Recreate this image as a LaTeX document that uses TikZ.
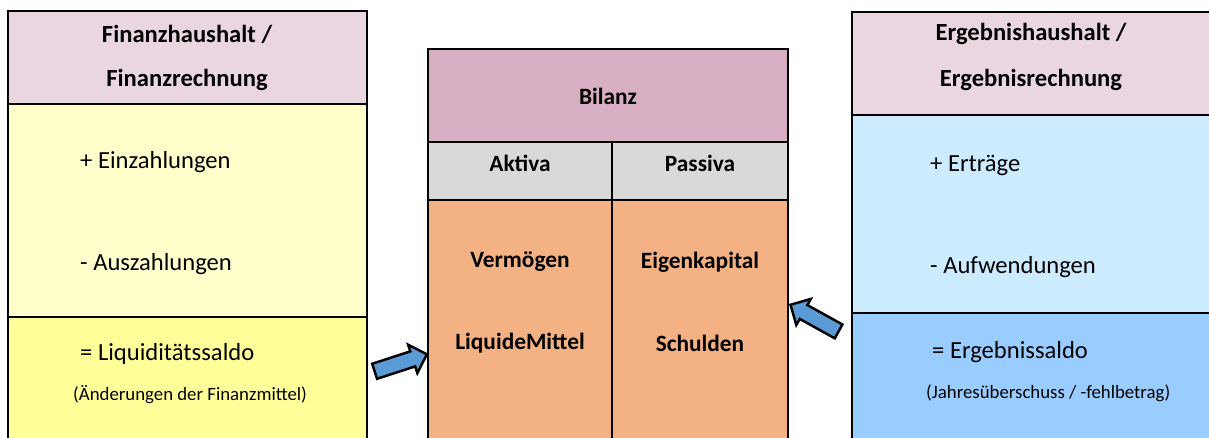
\documentclass[tikz,border=0pt]{standalone}
\usepackage{fontspec}
\setmainfont{Carlito}
\usetikzlibrary{shapes.arrows}

\definecolor{headpale}{HTML}{E9D6E1}
\definecolor{headrose}{HTML}{D8AEC3}
\definecolor{rowgray}{HTML}{D9D9D9}
\definecolor{bodyorange}{HTML}{F4B183}
\definecolor{paleyellow}{HTML}{FFFFCB}
\definecolor{brightyellow}{HTML}{FFFF99}
\definecolor{paleblue}{HTML}{CCEBFF}
\definecolor{midblue}{HTML}{99CCFF}
\definecolor{arrowblue}{HTML}{5B9BD5}

\tikzset{
  box/.style = {draw = black, line width = 1.6pt},
  titletext/.style = {font = \fontsize{14}{16}\selectfont\bfseries},
  headtext/.style = {font = \fontsize{13.3}{15}\selectfont\bfseries},
  itemtext/.style = {anchor = west, font = \fontsize{14}{16}\selectfont},
  notetext/.style = {anchor = west, font = \fontsize{10.7}{12}\selectfont},
  blockarrow/.style = {single arrow, draw = black, line width = 1.4pt, fill = arrowblue,
    minimum height = 1.1cm, minimum width = 0.56cm, inner sep = 3.8pt,
    single arrow head extend = 0.14cm}
}

\begin{document}
\begin{tikzpicture}[x = 0.02cm, y = -0.02cm]
\useasboundingbox (0, 0) rectangle (1209, 437);
\clip (0, 0) rectangle (1209, 437);

% Finanzhaushalt
\draw [box, fill = headpale] (8, 11) rectangle (367, 104);
\draw [box, fill = paleyellow] (8, 104) rectangle (367, 317);
\draw [box, fill = brightyellow] (8, 317) rectangle (367, 460);
\node [titletext] (fhead) at (187, 34) {Finanzhaushalt /};
\node [titletext] (frech) at (187, 80) {Finanzrechnung};
\node [itemtext] (einz) at (74, 162) {+ Einzahlungen};
\node [itemtext] (ausz) at (74, 264) {- Auszahlungen};
\node [itemtext] (lsaldo) at (74, 354) {= Liquiditätssaldo};
\node [notetext] (lnote) at (67, 395) {(Änderungen der Finanzmittel)};

% Bilanz
\draw [box, fill = headrose] (428, 49) rectangle (788, 142);
\draw [box, fill = rowgray] (428, 142) rectangle (612, 200);
\draw [box, fill = rowgray] (612, 142) rectangle (788, 200);
\draw [box, fill = bodyorange] (428, 200) rectangle (612, 460);
\draw [box, fill = bodyorange] (612, 200) rectangle (788, 460);
\node [headtext] (bilanz) at (608, 96) {Bilanz};
\node [headtext] (aktiva) at (520, 163) {Aktiva};
\node [headtext] (passiva) at (700, 163) {Passiva};
\node [headtext] (verm) at (520, 262) {Vermögen};
\node [headtext] (liqm) at (520, 343) {LiquideMittel};
\node [headtext] (eigk) at (700, 262) {Eigenkapital};
\node [headtext] (schul) at (700, 343) {Schulden};

% Ergebnishaushalt
\draw [box, fill = headpale] (852, 12) rectangle (1230, 115);
\draw [box, fill = paleblue] (852, 115) rectangle (1230, 313);
\draw [box, fill = midblue] (852, 313) rectangle (1230, 460);
\node [titletext] (ehead) at (1031, 34) {Ergebnishaushalt /};
\node [titletext] (erech) at (1031, 80) {Ergebnisrechnung};
\node [itemtext] (ertr) at (924, 165) {+ Erträge};
\node [itemtext] (aufw) at (924, 267) {- Aufwendungen};
\node [itemtext] (esaldo) at (926, 352) {= Ergebnissaldo};
\node [notetext] (enote) at (920, 393) {(Jahresüberschuss / -fehlbetrag)};

% Pfeile
\node [blockarrow, rotate = 18] (arrowl) at (397, 364) {};
\node [blockarrow, rotate = 151] (arrowr) at (818, 320) {};
\end{tikzpicture}
\end{document}
